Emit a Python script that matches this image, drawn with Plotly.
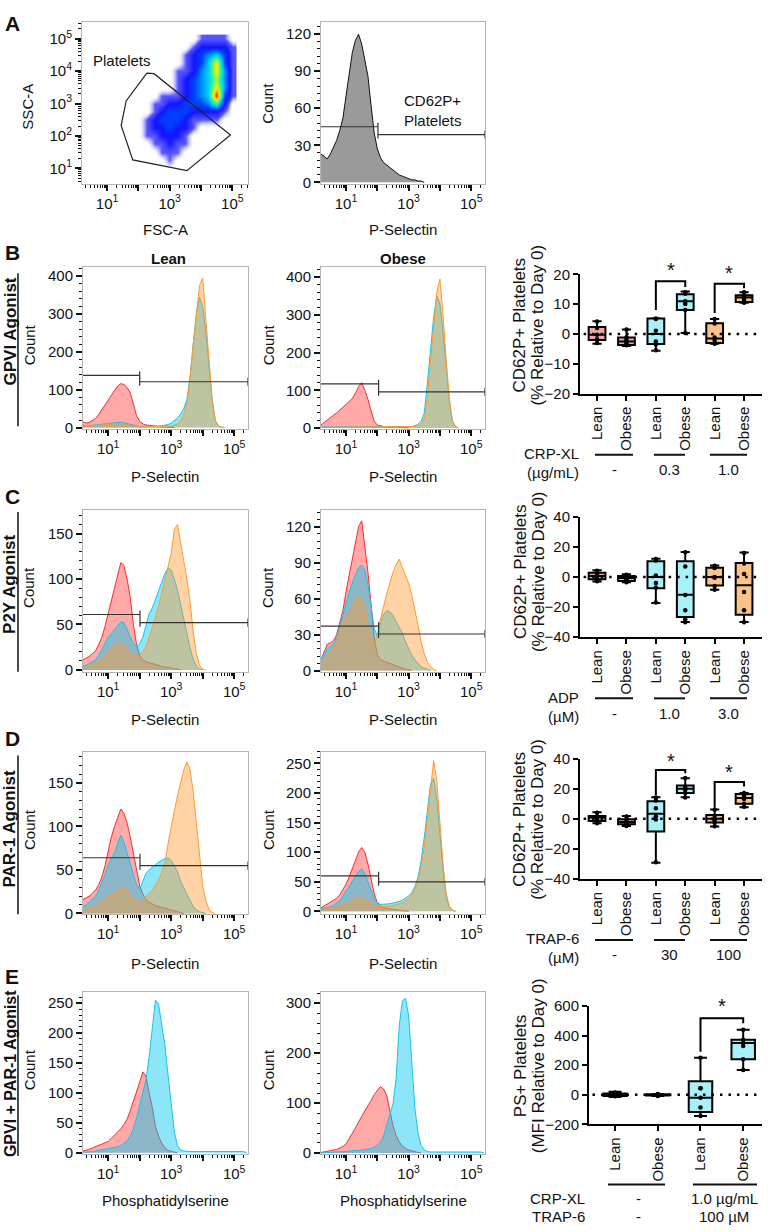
import math
import plotly.graph_objects as go

W, H = 772, 1232
FONT = "Liberation Sans, Arial, Helvetica, sans-serif"

# ---------------- DATA ----------------
# Panel A: FSC-A / SSC-A density (log10 decades, relative event density)
DENS_X = [2.0, 2.25, 2.5, 2.75, 3.0, 3.25, 3.5, 3.75, 4.0, 4.25, 4.5, 4.75, 5.0]
DENS_Y = [1.0, 1.25, 1.5, 1.75, 2.0, 2.25, 2.5, 2.75, 3.0, 3.25, 3.5, 3.75, 4.0, 4.25, 4.5,
          4.75, 5.0]
DENS_Z = [
    [0, 0, 0, 0, 0, 0, 0, 0, 0, 0, 0, 0, 0],
    [0, 0, 0, 0, 1, 0, 0, 0, 0, 0, 0, 0, 0],
    [0, 0, 0, 1, 1, 1, 0, 0, 0, 0, 0, 0, 0],
    [0, 0, 1, 1, 2, 1, 1, 0, 0, 0, 0, 0, 0],
    [0, 1, 1, 2, 2, 2, 1, 0, 0, 0, 0, 0, 0],
    [0, 1, 2, 2, 3, 2, 2, 1, 0, 0, 0, 0, 0],
    [0, 1, 2, 3, 3, 3, 2, 1, 1, 1, 1, 0, 0],
    [0, 0, 1, 2, 3, 3, 3, 2, 2, 2, 2, 1, 0],
    [0, 0, 1, 1, 2, 2, 3, 3, 3, 4, 6, 2, 0],
    [0, 0, 0, 1, 1, 1, 2, 3, 4, 5, 10, 3, 1],
    [0, 0, 0, 0, 0, 1, 2, 3, 4, 5, 8, 4, 1],
    [0, 0, 0, 0, 0, 1, 2, 3, 4, 5, 7, 4, 1],
    [0, 0, 0, 0, 0, 1, 1, 2, 4, 5, 8, 4, 1],
    [0, 0, 0, 0, 0, 0, 1, 2, 3, 5, 8, 3, 1],
    [0, 0, 0, 0, 0, 0, 1, 2, 3, 4, 5, 3, 1],
    [0, 0, 0, 0, 0, 0, 0, 1, 2, 2, 2, 2, 1],
    [0, 0, 0, 0, 0, 0, 0, 0, 1, 1, 1, 1, 0],
]
PLT_GATE_X = [2.27, 2.50, 4.94, 3.55, 1.82, 1.45, 1.61, 2.27]
PLT_GATE_Y = [3.94, 3.92, 2.03, 0.93, 1.26, 2.32, 3.08, 3.94]

# Histogram bins (log10 decade of fluorescence)
BINS = [round(0.2 + 0.1 * i, 1) for i in range(53)]

A_PSEL = [23, 21, 19, 23, 28, 34, 42, 52, 70, 88, 105, 115, 120, 112, 100, 86, 62, 40, 27, 20,
          16, 14, 12, 10, 8, 6, 5, 4, 3, 2, 2, 1, 1, 0]
A_GATE = (2.02, 45, 38.7)

B_LEAN_RED = [15, 12, 14, 18, 24, 35, 48, 60, 72, 85, 100, 110, 116, 114, 106, 92, 62, 32, 16, 10,
              7, 6, 4, 3, 3, 2, 2, 1, 1, 0]
B_LEAN_CYAN = [6, 5, 5, 6, 7, 8, 9, 11, 12, 13, 14, 14, 15, 13, 11, 8, 6, 4, 3, 3,
               3, 3, 3, 4, 4, 5, 6, 8, 12, 18, 25, 35, 50, 75, 135, 220, 300, 345, 320, 255,
               160, 75, 20, 4, 1, 0]
B_LEAN_ORANGE = [4, 4, 4, 5, 5, 6, 7, 8, 9, 10, 10, 11, 11, 10, 8, 6, 4, 3, 2, 2,
                 2, 2, 2, 2, 2, 3, 3, 3, 4, 6, 10, 18, 35, 65, 130, 220, 300, 375, 395, 290,
                 170, 75, 20, 5, 1, 0]
B_LEAN_GATE = (2.0, 138, 121)

B_OB_RED = [8, 15, 22, 28, 34, 40, 47, 55, 63, 70, 78, 92, 110, 120, 100, 76, 45, 18, 8, 5,
            4, 3, 2, 2, 2, 1, 1, 1, 0]
B_OB_CYAN = [3, 3, 3, 3, 3, 3, 3, 3, 3, 3, 3, 3, 3, 3, 3, 3, 3, 3, 3, 3,
             3, 3, 3, 3, 3, 3, 3, 3, 3, 4, 6, 10, 18, 40, 120, 215, 295, 350, 330, 255,
             160, 70, 15, 3, 0]
B_OB_ORANGE = [2, 2, 2, 2, 2, 2, 2, 2, 2, 2, 2, 2, 2, 2, 2, 2, 2, 2, 2, 2,
               2, 2, 2, 2, 2, 2, 2, 2, 2, 3, 4, 5, 10, 25, 80, 180, 280, 360, 395, 300,
               180, 80, 20, 4, 0]
B_OB_GATE = (2.04, 117, 96)

C_LEAN_RED = [11, 13, 15, 18, 21, 28, 36, 48, 62, 78, 92, 105, 118, 115, 100, 80, 50, 28, 16, 11,
              9, 8, 7, 6, 5, 4, 3, 3, 2, 1, 1, 0]
C_LEAN_CYAN = [4, 5, 7, 9, 11, 16, 23, 30, 36, 40, 44, 48, 53, 52, 45, 36, 29, 26, 29, 36,
               50, 62, 68, 78, 88, 98, 106, 112, 110, 100, 88, 72, 55, 40, 24, 12, 4, 1, 0]
C_LEAN_ORANGE = [2, 3, 5, 6, 8, 10, 12, 15, 18, 22, 26, 29, 31, 28, 24, 20, 17, 15, 16, 20,
                 26, 36, 46, 58, 70, 85, 98, 112, 128, 155, 160, 140, 122, 100, 75, 42, 18, 5, 1, 0]
C_LEAN_GATE = (2.01, 61, 52)

C_OB_RED = [9, 15, 22, 23, 25, 30, 39, 50, 66, 80, 95, 108, 120, 125, 105, 82, 55, 28, 13, 9,
            8, 7, 6, 5, 4, 3, 2, 1, 1, 0]
C_OB_CYAN = [9, 14, 18, 20, 22, 28, 36, 46, 57, 66, 73, 80, 86, 88, 84, 72, 52, 35, 29, 40,
             47, 50, 49, 46, 41, 36, 31, 24, 18, 13, 9, 6, 3, 2, 1, 0]
C_OB_ORANGE = [6, 9, 12, 15, 19, 26, 33, 40, 44, 49, 53, 57, 62, 58, 53, 38, 28, 21, 30, 43,
               54, 64, 73, 82, 88, 93, 86, 79, 73, 63, 51, 38, 24, 14, 7, 3, 1, 0]
C_OB_GATE = (2.04, 37, 30.5)

D_LEAN_RED = [16, 18, 20, 23, 27, 33, 42, 55, 72, 88, 100, 110, 120, 115, 104, 88, 68, 48, 32, 22,
              16, 13, 11, 9, 8, 7, 6, 5, 4, 3, 2, 1, 0]
D_LEAN_CYAN = [8, 10, 13, 16, 20, 27, 35, 45, 56, 63, 70, 80, 90, 82, 70, 55, 45, 33, 28, 38,
               46, 50, 53, 57, 59, 61, 63, 64, 61, 55, 48, 37, 29, 22, 15, 8, 4, 2, 1, 0]
D_LEAN_ORANGE = [4, 5, 6, 8, 9, 11, 14, 17, 20, 22, 24, 26, 28, 29, 27, 21, 16, 13, 13, 16,
                 19, 23, 27, 32, 38, 47, 58, 80, 100, 118, 135, 150, 165, 174, 165, 140, 105, 62, 32, 15,
                 5, 1, 0]
D_LEAN_GATE = (2.01, 64, 55)

D_OB_RED = [6, 9, 12, 15, 18, 22, 28, 36, 46, 58, 72, 88, 100, 108, 100, 80, 55, 30, 15, 9,
            6, 5, 4, 3, 2, 2, 1, 1, 0]
D_OB_CYAN = [4, 5, 6, 8, 10, 14, 19, 26, 34, 42, 50, 60, 68, 72, 64, 50, 35, 22, 15, 12,
             12, 12, 13, 14, 15, 17, 19, 22, 26, 32, 42, 58, 85, 125, 175, 215, 225, 190, 130, 70,
             25, 8, 2, 0]
D_OB_ORANGE = [2, 3, 4, 5, 6, 7, 9, 11, 13, 15, 17, 19, 22, 24, 22, 18, 14, 10, 8, 8,
               8, 8, 9, 10, 11, 13, 15, 18, 22, 28, 38, 52, 75, 110, 160, 215, 255, 220, 150, 80,
               30, 8, 2, 0]
D_OB_GATE = (2.04, 60, 50)

E_LEAN_RED = [3, 4, 6, 8, 10, 12, 15, 17, 19, 24, 29, 34, 40, 47, 56, 70, 85, 103, 118, 135,
              128, 100, 76, 44, 28, 16, 8, 4, 2, 1, 0]
E_LEAN_CYAN = [1, 1, 2, 2, 3, 4, 5, 5, 6, 7, 8, 10, 12, 16, 20, 28, 40, 58, 80, 102,
               122, 160, 210, 255, 248, 215, 180, 130, 85, 35, 12, 5, 3, 2, 2, 2, 2, 2, 2, 2,
               2, 2, 2, 2, 2, 2, 2, 2, 2, 2, 2, 2, 0]
E_OB_RED = [1, 2, 3, 4, 5, 7, 10, 13, 18, 28, 38, 50, 62, 74, 86, 95, 105, 117, 125, 133,
            128, 115, 85, 55, 35, 22, 14, 9, 6, 4, 2, 1, 0]
E_OB_CYAN = [0, 0, 1, 1, 2, 2, 2, 3, 3, 4, 4, 5, 5, 6, 7, 8, 9, 12, 16, 22,
             35, 55, 75, 98, 150, 255, 305, 310, 275, 190, 90, 40, 15, 6, 3, 2, 2, 2, 2, 2,
             2, 2, 2, 2, 2, 2, 2, 2, 2, 2, 2, 2, 0]

# Box plots (% change relative to day 0)
GROUPS6 = ["Lean", "Obese", "Lean", "Obese", "Lean", "Obese"]
GROUPS4 = ["Lean", "Obese", "Lean", "Obese"]

B_Q1 = [-2.0, -3.7, -3.4, 8.0, -3.0, 10.7]
B_MED = [-0.3, -2.5, 0.0, 11.0, -1.5, 12.2]
B_Q3 = [2.3, -1.2, 5.2, 13.3, 3.6, 13.0]
B_LO = [-3.3, -4.0, -5.6, 0.3, -3.3, 10.5]
B_HI = [4.3, 1.5, 5.3, 14.2, 5.0, 14.0]
B_PTS = [[4.2, 2.0, -0.3, -1.8, -3.0], [1.5, -1.2, -2.0, -2.5, -3.2, -3.8],
         [5.2, 5.0, 1.1, -2.5, -3.5, -5.5], [14.0, 13.5, 11.0, 10.0, 8.0, 0.3],
         [5.0, 3.5, -1.2, -2.0, -3.0, -3.3], [14.0, 13.0, 12.2, 11.5, 11.0, 10.5]]
B_SIG = [(2, 3, 17.7, 8.0, 15.7, 22.0), (4, 5, 16.8, 7.0, 15.3, 21.0)]

C_Q1 = [-1.4, -2.6, -7.4, -26.6, -5.7, -25.1]
C_MED = [0.7, -0.7, 0.0, -11.8, 0.0, -5.5]
C_Q3 = [2.8, 0.7, 10.5, 10.5, 6.1, 9.4]
C_LO = [-3.0, -3.5, -17.3, -29.9, -8.5, -29.9]
C_HI = [4.6, 1.8, 12.2, 16.6, 7.7, 16.4]
C_PTS = [[4.2, 2.0, 0.5, -1.0, -2.8], [1.5, 0.5, -1.0, -2.0, -2.5, -3.5],
         [12.0, 11.0, 1.0, -4.0, -7.0, -17.0], [16.5, 7.0, -12.0, -22.0, -28.0, -30.0],
         [7.5, 6.0, 0.0, -0.5, -6.0, -8.5], [16.0, 9.0, 2.0, -10.0, -22.0, -30.0]]
C_SIG = []

D_Q1 = [-1.5, -3.7, -8.5, 17.0, -2.6, 10.0]
D_MED = [0.8, -2.2, 3.3, 19.9, 0.0, 13.8]
D_Q3 = [1.7, -0.4, 11.6, 22.0, 2.4, 16.4]
D_LO = [-3.0, -4.8, -29.3, 14.2, -5.2, 7.6]
D_HI = [4.2, 1.7, 14.2, 26.9, 6.1, 17.0]
D_PTS = [[4.0, 1.5, 0.5, -1.0, -3.0], [1.5, -0.5, -2.0, -3.0, -4.0, -4.8],
         [14.0, 12.0, 7.0, 1.5, -0.5, -29.0], [27.0, 21.0, 20.0, 19.0, 17.0, 14.0],
         [6.0, 2.0, 0.0, -1.0, -2.5, -5.0], [17.0, 15.0, 14.0, 13.0, 10.0, 8.0]]
D_SIG = [(2, 3, 32.3, 15.7, 30.2, 40.0), (4, 5, 24.3, 7.2, 21.4, 32.3)]

E_Q1 = [-8, -5, -116, 240]
E_MED = [0, -1, -20, 351]
E_Q3 = [8, 3, 91, 373]
E_LO = [-15, -8, -144, 167]
E_HI = [20, 5, 251, 440]
E_PTS = [[15, 8, 3, -2, -6, -10], [5, 2, 0, -3, -6, -8],
         [250, 45, 45, -20, -86, -144], [440, 373, 351, 330, 240, 167]]
E_SIG = [(2, 3, 518, 291, 484, 611)]

# ---------------- STYLE ----------------
RED, RED_F = "#ff2a2a", "rgba(255,40,40,0.40)"
CYAN, CYAN_F = "#12c4f2", "rgba(0,200,240,0.45)"
ORANGE, ORANGE_F = "#ff9a2e", "rgba(255,150,40,0.42)"
BOX6 = ["#f4a5a3", "#f4a5a3", "#a8f1f8", "#a8f1f8", "#fbc387", "#fbc387"]
BOX4 = ["#f4a5a3", "#f4a5a3", "#a8f1f8", "#a8f1f8"]
TXT = "#111111"

XR = [0.2, 5.44]

fig = go.Figure()
layout_axes = {}
ANN = []
SHAPES = []


def aid(i):
    return ("x", "y") if i == 1 else (f"x{i}", f"y{i}")


def add_axes(i, xpix, ypix, xa, ya):
    xk = "xaxis" if i == 1 else f"xaxis{i}"
    yk = "yaxis" if i == 1 else f"yaxis{i}"
    xs, ys = aid(i)
    layout_axes[xk] = dict(domain=[xpix[0] / W, xpix[1] / W], anchor=ys, **xa)
    layout_axes[yk] = dict(domain=[1 - ypix[1] / H, 1 - ypix[0] / H], anchor=xs, **ya)


DEC_MINOR = [n + math.log10(k) for n in range(0, 6) for k in range(2, 10)]
FRAME = dict(showline=True, linecolor="#b4b4b4", linewidth=1, mirror=True, ticks="outside",
             tickcolor=TXT, ticklen=6, tickwidth=2, showgrid=False, zeroline=False,
             tickfont=dict(size=15, color=TXT, family=FONT), fixedrange=True)


def dec_axis(rng, labels_all=False):
    tt = ["10<sup>%d</sup>" % n if (labels_all or n % 2 == 1) else "" for n in range(0, 6)]
    tt[0] = ""
    return dict(range=rng, tickmode="array", tickvals=list(range(0, 6)), ticktext=tt,
                minor=dict(tickmode="array", tickvals=DEC_MINOR, ticks="outside", ticklen=3,
                           tickwidth=1, tickcolor=TXT),
                **FRAME)


def lin_axis(rng, dtick, mdtick):
    return dict(range=rng, tickmode="linear", tick0=0, dtick=dtick,
                minor=dict(dtick=mdtick, tick0=0, ticks="outside", ticklen=3, tickwidth=1,
                           tickcolor=TXT),
                **FRAME)


def text(s, x, y, size=15, bold=False, angle=0, xanchor="center", yanchor="middle",
         align="center"):
    ANN.append(dict(text=f"<b>{s}</b>" if bold else s, x=x / W, y=1 - y / H,
                    xref="paper", yref="paper", showarrow=False,
                    font=dict(size=size, color=TXT, family=FONT), textangle=angle,
                    xanchor=xanchor, yanchor=yanchor, align=align))


def pline(x0, y0, x1, y1, width=1.5, color=TXT):
    SHAPES.append(dict(type="line", xref="paper", yref="paper", x0=x0 / W, x1=x1 / W,
                       y0=1 - y0 / H, y1=1 - y1 / H, line=dict(color=color, width=width)))


def hist(i, vals, color, fillc, width=1):
    xs, ys = aid(i)
    fig.add_trace(go.Scatter(x=BINS[:len(vals)], y=vals, mode="lines",
                             line=dict(color=color, width=width), fill="tozeroy",
                             fillcolor=fillc, xaxis=xs, yaxis=ys, hoverinfo="skip"))


def gates(i, g, yrng):
    b, yl, yr = g
    t = (yrng[1] - yrng[0]) * 0.025
    xs, ys = aid(i)
    x = [XR[0], b, None, b, b, None, b, XR[1], None, b, b, None, XR[1], XR[1]]
    y = [yl, yl, None, yl - t, yl + t, None, yr, yr, None, yr - t, yr + t, None, yr - t, yr + t]
    fig.add_trace(go.Scatter(x=x, y=y, mode="lines", line=dict(color="#333333", width=1.2),
                             xaxis=xs, yaxis=ys, cliponaxis=False, hoverinfo="skip"))


LEFT_X = (83, 248)
MID_X = (321, 485)

# ---------------- ROW A ----------------
A_YR = [0.53, 5.52]
add_axes(1, (82, 248), (13, 177), dec_axis([0.2, 5.5]), dec_axis(A_YR, labels_all=True))
fig.add_trace(go.Heatmap(x=DENS_X, y=DENS_Y, z=DENS_Z, zmin=0, zmax=10, zsmooth="best",
                         showscale=False, hoverinfo="skip",
                         colorscale=[[0, "rgba(255,255,255,0)"], [0.1, "rgba(70,70,255,0.92)"],
                                     [0.2, "#1414ff"], [0.3, "#0040ff"], [0.4, "#0090ff"],
                                     [0.5, "#00d8f0"], [0.6, "#30f0a0"], [0.7, "#a8f040"],
                                     [0.8, "#f8f000"], [0.9, "#ff8000"], [1, "#ff0000"]],
                         xaxis="x", yaxis="y"))
fig.add_trace(go.Scatter(x=PLT_GATE_X, y=PLT_GATE_Y, mode="lines",
                         line=dict(color="#222222", width=1.2), xaxis="x", yaxis="y",
                         hoverinfo="skip"))
text("Platelets", 122, 52)
text("SSC-A", 28, 99, angle=-90)
text("FSC-A", 165, 224)

A_HR = [-1, 130]
add_axes(2, MID_X, (13, 177), dec_axis(XR), lin_axis(A_HR, 30, 6))
hist(2, A_PSEL, "#111111", "rgba(120,120,120,0.75)")
gates(2, A_GATE, A_HR)
text("CD62P+<br>Platelets", 402, 103, xanchor="left", align="left")
text("Count", 268, 96, angle=-90)
text("P-Selectin", 403, 224)

# ---------------- HIST ROWS ----------------
ROWS = [
    (3, 4, (262, 426), [-4, 423], [-3, 426], (100, 20), (100, 20),
     (B_LEAN_RED, B_LEAN_CYAN, B_LEAN_ORANGE), (B_OB_RED, B_OB_CYAN, B_OB_ORANGE),
     B_LEAN_GATE, B_OB_GATE, "P-Selectin", 474),
    (6, 7, (508, 672), [-2, 176], [-1, 134], (50, 10), (30, 6),
     (C_LEAN_RED, C_LEAN_CYAN, C_LEAN_ORANGE), (C_OB_RED, C_OB_CYAN, C_OB_ORANGE),
     C_LEAN_GATE, C_OB_GATE, "P-Selectin", 720),
    (9, 10, (753, 918), [-1, 186], [-5, 270], (50, 10), (50, 10),
     (D_LEAN_RED, D_LEAN_CYAN, D_LEAN_ORANGE), (D_OB_RED, D_OB_CYAN, D_OB_ORANGE),
     D_LEAN_GATE, D_OB_GATE, "P-Selectin", 968),
    (12, 13, (997, 1161), [-2, 268], [-2, 322], (50, 10), (100, 20),
     (E_LEAN_RED, E_LEAN_CYAN, None), (E_OB_RED, E_OB_CYAN, None),
     None, None, "Phosphatidylserine", 1208),
]

for (il, im, ypix, yrl, yrm, tl, tm, dl, dm, gl, gm, xtitle, xty) in ROWS:
    add_axes(il, LEFT_X, ypix, dec_axis(XR), lin_axis(yrl, *tl))
    add_axes(im, MID_X, ypix, dec_axis(XR), lin_axis(yrm, *tm))
    for idx, data, yr, g in ((il, dl, yrl, gl), (im, dm, yrm, gm)):
        hist(idx, data[0], RED, RED_F)
        hist(idx, data[1], CYAN, CYAN_F)
        if data[2] is not None:
            hist(idx, data[2], ORANGE, ORANGE_F)
        if g is not None:
            gates(idx, g, yr)
    yc = (ypix[0] + ypix[1]) / 2 - 3
    text("Count", 29, yc, angle=-90)
    text("Count", 268, yc, angle=-90)
    text(xtitle, 165, xty)
    text(xtitle, 403, xty)

text("Lean", 168, 253, bold=True)
text("Obese", 403, 253, bold=True)

# ---------------- BOX PLOTS ----------------
BOXROWS = [
    (5, (269, 390), [-20, 20], 10, GROUPS6, B_Q1, B_MED, B_Q3, B_LO, B_HI, B_PTS, B_SIG, BOX6,
     [-0.58, 5.61], (580, 762), 0.57, 15),
    (8, (515, 637), [-40, 40], 20, GROUPS6, C_Q1, C_MED, C_Q3, C_LO, C_HI, C_PTS, C_SIG, BOX6,
     [-0.58, 5.61], (580, 762), 0.57, 15),
    (11, (760, 882), [-40, 40], 20, GROUPS6, D_Q1, D_MED, D_Q3, D_LO, D_HI, D_PTS, D_SIG, BOX6,
     [-0.58, 5.61], (580, 762), 0.57, 15),
    (14, (1011, 1131), [-200, 600], 200, GROUPS4, E_Q1, E_MED, E_Q3, E_LO, E_HI, E_PTS, E_SIG,
     BOX4, [-0.61, 3.44], (589, 762), 0.55, 15),
]
BOXAX = dict(showline=True, linecolor="black", linewidth=2, ticks="outside", ticklen=5,
             tickwidth=2, tickcolor="black", showgrid=False, zeroline=False, fixedrange=True)

for (i, ypix, yr, dt, groups, q1, med, q3, lo, hi, pts, sig, cols, xr, xpix, bw, yfs) in BOXROWS:
    n = len(groups)
    add_axes(i, xpix, ypix,
             dict(range=xr, tickmode="array", tickvals=list(range(n)), ticktext=groups,
                  tickangle=-90, tickfont=dict(size=15, color=TXT, family=FONT), **BOXAX),
             dict(range=yr, tickmode="linear", tick0=0, dtick=dt,
                  tickfont=dict(size=yfs, color=TXT, family=FONT), **BOXAX))
    xs, ys = aid(i)
    SHAPES.append(dict(type="line", xref=f"{xs} domain", yref=ys, x0=0.02, x1=1.0, y0=0, y1=0,
                       line=dict(color="black", width=2.5, dash="2.5px,6px")))
    for k in range(n):
        fig.add_trace(go.Box(x=[k], q1=[q1[k]], median=[med[k]], q3=[q3[k]],
                             lowerfence=[lo[k]], upperfence=[hi[k]], width=bw,
                             whiskerwidth=0.55, fillcolor=cols[k],
                             line=dict(color="black", width=2), boxpoints=False,
                             xaxis=xs, yaxis=ys, hoverinfo="skip"))
        fig.add_trace(go.Scatter(x=[k] * len(pts[k]), y=pts[k], mode="markers",
                                 marker=dict(color="black", size=4.5), xaxis=xs, yaxis=ys,
                                 hoverinfo="skip", cliponaxis=False))
    for (a, b, ytop, yl, yrt, ystar) in sig:
        fig.add_trace(go.Scatter(x=[a, a, b, b], y=[yl, ytop, ytop, yrt], mode="lines",
                                 line=dict(color="black", width=2), xaxis=xs, yaxis=ys,
                                 cliponaxis=False, hoverinfo="skip"))
        # star placed in the axis' domain fraction so it may sit above the top tick
        ANN.append(dict(text="*", x=(a + b) / 2, xref=xs,
                        y=(ystar - yr[0]) / (yr[1] - yr[0]), yref=f"{ys} domain",
                        showarrow=False, xanchor="center", yanchor="middle", yshift=-2,
                        font=dict(size=20, color=TXT, family=FONT)))

# box y titles (two lines each)
for (l1, l2, yc, x1, x2) in [("CD62P+ Platelets", "(% Relative to Day 0)", 321, 520, 538),
                             ("CD62P+ Platelets", "(% Relative to Day 0)", 571, 520, 538),
                             ("CD62P+ Platelets", "(% Relative to Day 0)", 822, 520, 538),
                             ("PS+ Platelets", "(MFI Relative to Day 0)", 1072, 520, 538)]:
    text(l1, x1, yc, angle=-90, size=17)
    text(l2, x2, yc, angle=-90, size=17)

# treatment group annotations
GRP_LINES = [(595, 633), (654, 685), (710, 747)]
for (yl, name, unit, vals) in [(452, "CRP-XL", "(µg/mL)", ["-", "0.3", "1.0"]),
                               (699, "ADP", "(µM)", ["-", "1.0", "3.0"]),
                               (944, "TRAP-6", "(µM)", ["-", "30", "100"])]:
    for (x0, x1), v in zip(GRP_LINES, vals):
        pline(x0, yl, x1, yl, width=2)
        text(v, (x0 + x1) / 2, yl + 15)
    text(name, 581, yl - 1, xanchor="right")
    text(unit, 581, yl + 18, xanchor="right")

pline(608, 1192, 665, 1192, width=2)
pline(693, 1192, 757, 1192, width=2)
text("CRP-XL", 587, 1206, xanchor="right")
text("TRAP-6", 587, 1224, xanchor="right")
text("-", 638, 1206)
text("-", 638, 1224)
text("1.0 µg/mL", 724, 1206)
text("100 µM", 724, 1224)

# panel letters and row labels
for L, y in [("A", 15), ("B", 247), ("C", 494), ("D", 740), ("E", 981)]:
    text(L, 12, y, size=21, bold=True)
for s, yc, (l0, l1), fs in [("GPVI Agonist", 327, (268, 423), 17),
                            ("P2Y Agonist", 583, (510, 672), 17),
                            ("PAR-1 Agonist", 832, (757, 918), 17),
                            ("GPVI + PAR-1 Agonist", 1080, (1000, 1163), 16)]:
    text(s, 10, yc, size=fs, bold=True, angle=-90)
    pline(18, l0, 18, l1, width=1.5)

fig.update_layout(width=W, height=H, margin=dict(l=0, r=0, t=0, b=0), showlegend=False,
                  plot_bgcolor="white", paper_bgcolor="white", hovermode=False,
                  font=dict(family=FONT, color=TXT), annotations=ANN, shapes=SHAPES,
                  **layout_axes)

fig.write_html("out.html", config={"displayModeBar": False},
               post_script="document.body.style.margin='0';"
                           "document.body.style.overflow='hidden';")
